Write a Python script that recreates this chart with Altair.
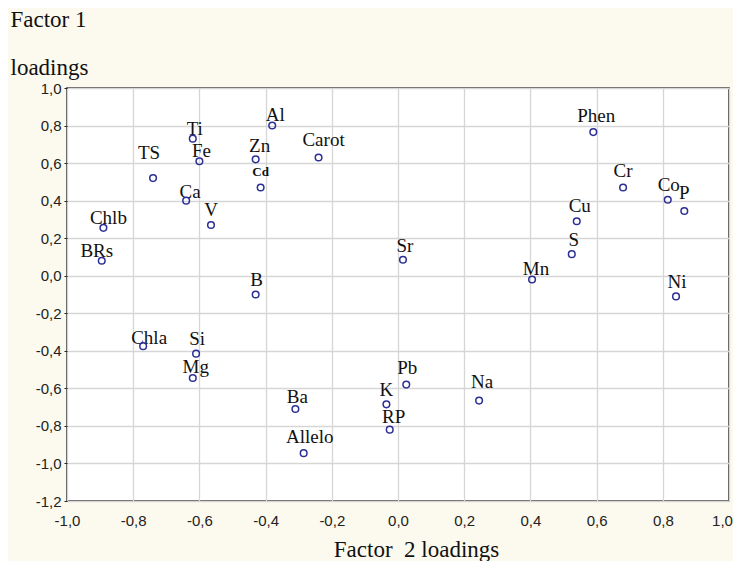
import altair as alt
import pandas as pd

# ---- data ----
names = ["Al", "Ti", "Fe", "TS", "Zn", "Carot", "Cd", "Ca", "V", "Chlb", "BRs", "B",
         "Chla", "Si", "Mg", "Ba", "Allelo", "K", "RP", "Pb", "Na",
         "Phen", "Cr", "Co", "P", "Cu", "S", "Sr", "Mn", "Ni"]
factor2 = [-0.38, -0.62, -0.60, -0.74, -0.43, -0.24, -0.415, -0.64, -0.565, -0.89, -0.895, -0.43,
           -0.77, -0.61, -0.62, -0.31, -0.285, -0.035, -0.025, 0.025, 0.245,
           0.59, 0.68, 0.815, 0.865, 0.54, 0.525, 0.015, 0.405, 0.84]
factor1 = [0.80, 0.73, 0.61, 0.52, 0.62, 0.63, 0.47, 0.40, 0.27, 0.255, 0.08, -0.10,
           -0.375, -0.415, -0.545, -0.71, -0.945, -0.685, -0.82, -0.58, -0.665,
           0.765, 0.47, 0.405, 0.345, 0.29, 0.115, 0.085, -0.02, -0.11]
x_ticks = [-1.0, -0.8, -0.6, -0.4, -0.2, 0.0, 0.2, 0.4, 0.6, 0.8, 1.0]
y_ticks = [-1.2, -1.0, -0.8, -0.6, -0.4, -0.2, 0.0, 0.2, 0.4, 0.6, 0.8, 1.0]

# label nudges (pixels, relative to the point) - styling only
label_dx = [3, 2, 2, -4, 4, 5, 0, 4, 0, 5, -5, 1,
            6, 1, 3, 2, 6, 0, 4, 1, 3,
            3, 0, 1, 0, 3, 2, 2, 4, 1]
label_dy = [-11, -10, -10, -25, -13, -17, -15, -9, -15, -10, -10, -15,
            -8, -15, -11, -12, -16, -14, -13, -17, -19,
            -16, -16, -15, -18, -15, -14, -14, -10, -14]

df = pd.DataFrame({"name": names, "f2": factor2, "f1": factor1})

label_expr = "replace(replace(format(datum.value, '.1f'), '.', ','), '\u2212', '-')"

xenc = alt.X("f2:Q",
             scale=alt.Scale(domain=[-1.0, 1.0], nice=False, zero=False),
             axis=alt.Axis(values=x_ticks, labelExpr=label_expr, grid=True,
                           ticks=False, domain=False, labelPadding=12,
                           labelFont="Liberation Sans", labelFontSize=15,
                           labelColor="#222222", labelFlush=False,
                           labelOffset={"condition": {"test": "datum.value >= 0.99", "value": -7},
                                        "value": 0},
                           title="Factor\u00a0 2 loadings", titleFont="Liberation Serif",
                           titleFontSize=23, titleFontWeight="normal", titleColor="#111111",
                           titleX=349, titleY=55, titleAlign="center",
                           titleBaseline="alphabetic"))
yenc = alt.Y("f1:Q",
             scale=alt.Scale(domain=[-1.2, 1.0], nice=False, zero=False),
             axis=alt.Axis(values=y_ticks, labelExpr=label_expr, grid=True,
                           ticks=True, tickSize=3, tickColor="#222222", domain=False,
                           labelPadding=3, labelFont="Liberation Sans", labelFontSize=15,
                           labelColor="#222222", labelFlush=False,
                           title=["Factor 1", "loadings"], titleFont="Liberation Serif",
                           titleFontSize=23, titleFontWeight="normal", titleColor="#111111",
                           titleAngle=0, titleAlign="left", titleBaseline="alphabetic",
                           titleLineHeight=48, titleX=-57, titleY=-62))

base = alt.Chart(df)

layers = []
for nm, ddx, ddy in zip(names, label_dx, label_dy):
    if nm == "Cd":
        mk = dict(font="Liberation Serif", fontSize=13, fontWeight="bold")
    else:
        mk = dict(font="Liberation Serif", fontSize=19)
    layers.append(
        base.transform_filter(alt.datum.name == nm).mark_text(
            color="#111111", baseline="middle", align="center", dx=ddx, dy=ddy, **mk
        ).encode(x=xenc, y=yenc, text="name:N")
    )

points = base.mark_point(shape="circle", filled=False, size=44, strokeWidth=1.5,
                         color="#2B2F95", opacity=1).encode(x=xenc, y=yenc)
layers.append(points)

chart = alt.layer(*layers).properties(
    width=662, height=413,
    autosize=alt.AutoSizeParams(type="none"),
    padding={"left": 59, "top": 80, "right": 4, "bottom": 60},
    background="#FCFAEE",
).configure_view(
    fill="white", stroke="#222222", strokeWidth=1.5,
).configure_axis(
    gridColor="#D6D6D6", gridWidth=1.3,
)

chart.save("out.html", embed_options={"renderer": "svg", "actions": False})
